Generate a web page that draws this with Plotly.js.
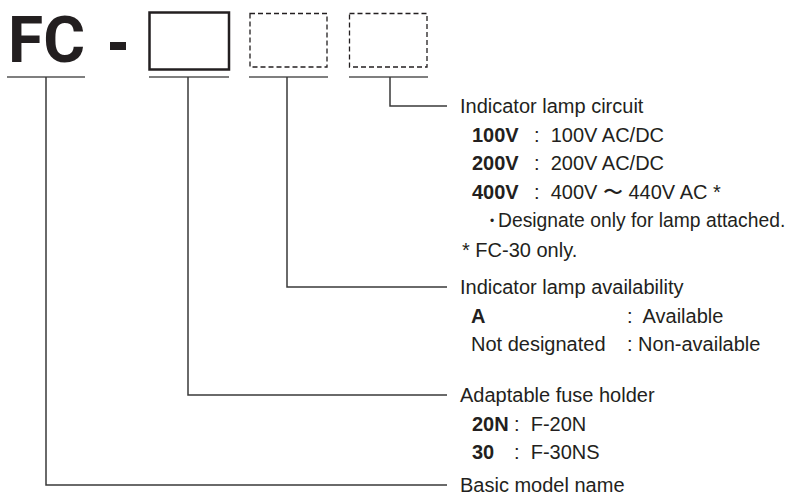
<!DOCTYPE html>
<html>
<head>
<meta charset="utf-8">
<script src="https://cdn.plot.ly/plotly-3.0.1.min.js"></script>
<style>
  html, body { margin: 0; padding: 0; background: #ffffff; }
  #chart { width: 789px; height: 498px; }
</style>
</head>
<body>
<div id="chart"></div>
<script>
// ---- content (text only) ----
const modelPrefix = "FC";
const sectionTitles = ["Indicator lamp circuit", "Indicator lamp availability", "Adaptable fuse holder", "Basic model name"];
const circuitCodes = ["100V", "200V", "400V"];
const circuitDescs = ["100V AC/DC", "200V AC/DC", "400V \u301C 440V AC *"];
const circuitNoteMarks = ["\u2022", "*"];
const circuitNotes = ["Designate only for lamp attached.", "FC-30 only."];
const availCodes = ["A", "Not designated"];
const availDescs = ["Available", "Non-available"];
const availBold = [true, false];
const fuseCodes = ["20N", "30"];
const fuseDescs = ["F-20N", "F-30NS"];

// ---- geometry ----
const W = 789, H = 498;
const ink = "#231f20";
const lineCol = "#3a3a3a";
const fam = "Liberation Sans, Arial, sans-serif";
const fs = 20;
const underlineY = 77;
const slotSpans = [[7, 85], [149, 229], [249, 328], [349, 428]];
const stemX = [46, 188, 287, 390];
const titleY = [106, 287, 395, 485];
const lineEndX = 447;
const textX = 459, codeX = 471;
const pitch = 28.7;

const shapes = [];
const ann = [];

// FC text
ann.push({x: 6, y: 40, xref: 'x', yref: 'y', xanchor: 'left', yanchor: 'middle', showarrow: false,
  text: "<b>" + modelPrefix + "</b>", font: {family: "Roboto, Liberation Sans, sans-serif", size: 64, color: ink}});
// dash
shapes.push({type: 'rect', xref: 'x', yref: 'y', x0: 110, x1: 126, y0: 42, y1: 50, fillcolor: ink, line: {width: 0}});
// boxes
shapes.push({type: 'rect', xref: 'x', yref: 'y', x0: 149.5, x1: 229, y0: 12.5, y1: 69.5, line: {color: ink, width: 2.5}});
shapes.push({type: 'rect', xref: 'x', yref: 'y', x0: 250, x1: 327, y0: 13.5, y1: 67, line: {color: ink, width: 1.3, dash: '5px,3px'}});
shapes.push({type: 'rect', xref: 'x', yref: 'y', x0: 349.5, x1: 427, y0: 13.5, y1: 67, line: {color: ink, width: 1.3, dash: '5px,3px'}});
// underlines
slotSpans.forEach(s => shapes.push({type: 'line', xref: 'x', yref: 'y', x0: s[0], x1: s[1], y0: underlineY, y1: underlineY, line: {color: '#555', width: 1.6}}));
// connectors
stemX.forEach((sx, i) => {
  const ty = titleY[3 - i];
  shapes.push({type: 'path', xref: 'x', yref: 'y', path: `M ${sx} ${underlineY} V ${ty} H ${lineEndX}`, line: {color: lineCol, width: 1.5}});
});

function txt(x, y, text, size) {
  ann.push({x: x, y: y, xref: 'x', yref: 'y', xanchor: 'left', yanchor: 'middle', showarrow: false,
    text: text, font: {family: fam, size: size || fs, color: ink}, borderpad: 0});
}

// section titles
sectionTitles.forEach((t, i) => txt(textX, titleY[i], t));

// indicator lamp circuit
circuitCodes.forEach((c, i) => {
  const y = titleY[0] + pitch * (i + 1);
  txt(codeX, y, "<b>" + c + "</b>");
  txt(533, y, ":  " + circuitDescs[i]);
});
circuitNotes.forEach((n, i) => {
  const y = titleY[0] + pitch * (circuitCodes.length + 1 + i);
  if (i === 0) {
    txt(489, y + 0.5, circuitNoteMarks[i], 12);
    txt(497, y, n, 19.3);
  } else {
    txt(461, y, circuitNoteMarks[i] + " " + n);
  }
});

// availability
availCodes.forEach((c, i) => {
  const y = titleY[1] + pitch * (i + 1);
  txt(codeX - 1, y, availBold[i] ? "<b>" + c + "</b>" : c);
  txt(626, y, (availBold[i] ? ":  " : ": ") + availDescs[i]);
});

// fuse holder
fuseCodes.forEach((c, i) => {
  const y = titleY[2] + pitch * (i + 1);
  txt(codeX, y, "<b>" + c + "</b>");
  txt(513, y, ":  " + fuseDescs[i]);
});

Plotly.newPlot('chart', [{x: [], y: [], type: 'scatter', hoverinfo: 'skip', showlegend: false}], {
  width: W, height: H,
  margin: {l: 0, r: 0, t: 0, b: 0, pad: 0},
  paper_bgcolor: '#ffffff', plot_bgcolor: '#ffffff',
  xaxis: {range: [0, W], visible: false, fixedrange: true},
  yaxis: {range: [H, 0], visible: false, fixedrange: true},
  showlegend: false,
  shapes: shapes,
  annotations: ann
}, {displayModeBar: false, staticPlot: true});
</script>
</body>
</html>
